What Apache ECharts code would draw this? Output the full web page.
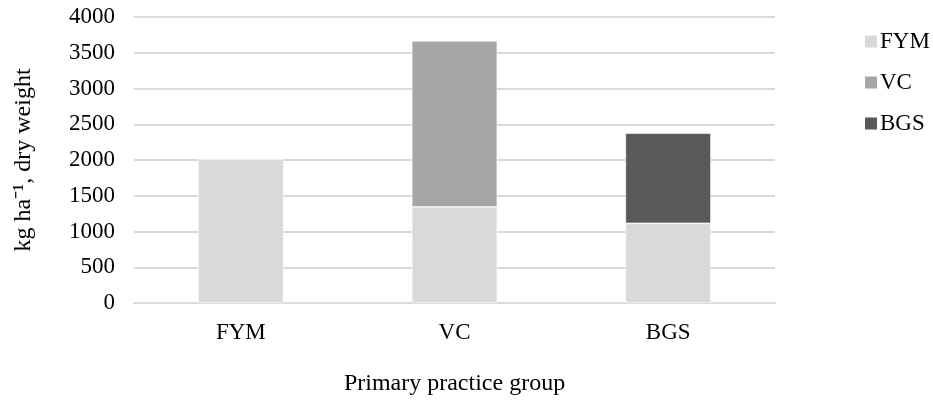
<!DOCTYPE html>
<html>
<head>
<meta charset="utf-8">
<script src="https://cdn.jsdelivr.net/npm/echarts@6/dist/echarts.min.js"></script>
<style>
  html, body { margin: 0; padding: 0; background: #ffffff; }
  #chart { width: 933px; height: 401px; }
</style>
</head>
<body>
<div id="chart"></div>
<script>
// Primary practice groups on the x axis
const categories = ['FYM', 'VC', 'BGS'];
// Stacked dry-weight amounts (kg ha-1) by amendment type
const fymValues = [2010, 1345, 1115];
const vcValues = [null, 2320, null];
const bgsValues = [null, null, 1260];
// Y axis ticks
const yMin = 0;
const yMax = 4000;
const yStep = 500;

const FONT = '"Liberation Serif", "Times New Roman", serif';
const FONT_SIZE = 23;
const TITLE_SIZE = 24;

const chart = echarts.init(document.getElementById('chart'), null, { renderer: 'canvas' });

const barBase = {
  type: 'bar',
  stack: 'total',
  barWidth: '40%',
  itemStyle: { borderColor: '#ffffff', borderWidth: 0.6 }
};

chart.setOption({
  animation: false,
  backgroundColor: '#ffffff',
  textStyle: { fontFamily: FONT, color: '#000000' },
  grid: {
    left: 134, right: 158, top: 17, bottom: 98,
    containLabel: false,
    outerBoundsMode: 'none'
  },
  legend: {
    orient: 'vertical',
    left: 858,
    top: 25,
    icon: 'rect',
    itemWidth: 14,
    itemHeight: 14,
    itemGap: 18,
    textStyle: { fontFamily: FONT, fontSize: FONT_SIZE, color: '#000000', padding: [0, 0, 0, -3] },
    data: ['FYM', 'VC', 'BGS']
  },
  xAxis: {
    type: 'category',
    data: categories,
    name: 'Primary practice group',
    nameLocation: 'middle',
    nameGap: 69,
    nameTextStyle: { fontFamily: FONT, fontSize: TITLE_SIZE, color: '#000000' },
    axisLine: { show: true, lineStyle: { color: '#d9d9d9', width: 2 } },
    axisTick: { show: false },
    axisLabel: { fontFamily: FONT, fontSize: FONT_SIZE, color: '#000000', margin: 18 }
  },
  yAxis: {
    type: 'value',
    min: yMin,
    max: yMax,
    interval: yStep,
    name: 'kg ha\u207B\u00B9, dry weight',
    nameLocation: 'middle',
    nameGap: 98,
    nameRotate: 90,
    nameTextStyle: { fontFamily: FONT, fontSize: TITLE_SIZE, color: '#000000' },
    axisLine: { show: false },
    axisTick: { show: false },
    axisLabel: {
      fontFamily: FONT, fontSize: FONT_SIZE, color: '#000000', margin: 19,
      formatter: function (v) { return String(v); }
    },
    splitLine: { show: true, lineStyle: { color: '#d9d9d9', width: 2 } }
  },
  series: [
    Object.assign({}, barBase, { name: 'FYM', data: fymValues, itemStyle: Object.assign({}, barBase.itemStyle, { color: '#d9d9d9' }) }),
    Object.assign({}, barBase, { name: 'VC', data: vcValues, itemStyle: Object.assign({}, barBase.itemStyle, { color: '#a6a6a6' }) }),
    Object.assign({}, barBase, { name: 'BGS', data: bgsValues, itemStyle: Object.assign({}, barBase.itemStyle, { color: '#595959' }) })
  ]
});
</script>
</body>
</html>
